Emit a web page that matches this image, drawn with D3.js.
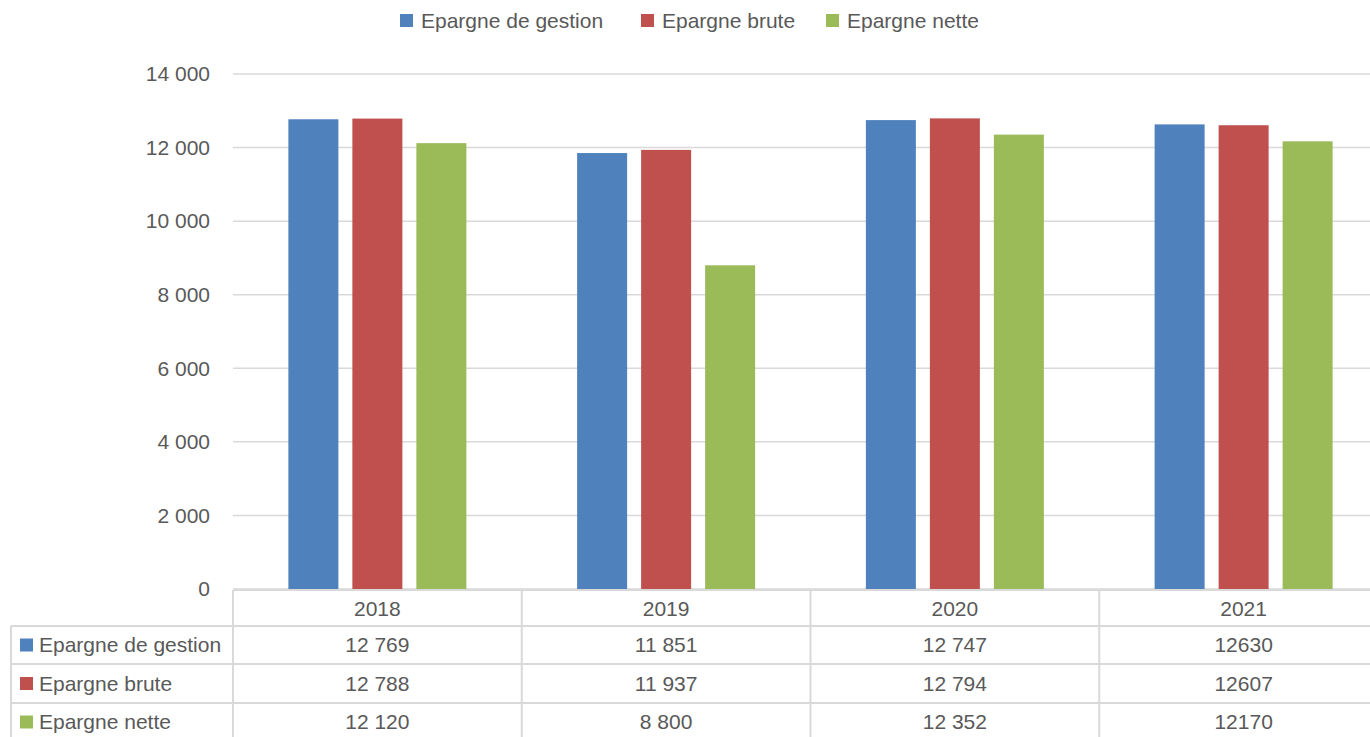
<!DOCTYPE html>
<html>
<head>
<meta charset="utf-8">
<script src="https://cdn.jsdelivr.net/npm/d3@7"></script>
<style>
  body { margin: 0; background: #fff; }
  text { font-family: "Liberation Sans", Arial, sans-serif; fill: #595959; }
</style>
</head>
<body>
<div id="chart"></div>
<script>
var years = ["2018", "2019", "2020", "2021"];
var seriesNames = ["Epargne de gestion", "Epargne brute", "Epargne nette"];
var gestion = [12769, 11851, 12747, 12630];
var brute = [12788, 11937, 12794, 12607];
var nette = [12120, 8800, 12352, 12170];
// labels shown in the data table, as written in the source
var gestionLabels = ["12 769", "11 851", "12 747", "12630"];
var bruteLabels = ["12 788", "11 937", "12 794", "12607"];
var netteLabels = ["12 120", "8 800", "12 352", "12170"];
var yTicks = [0, 2000, 4000, 6000, 8000, 10000, 12000, 14000];

var colors = ["#4F81BD", "#C0504D", "#9BBB59"];
var allValues = [gestion, brute, nette];
var allLabels = [gestionLabels, bruteLabels, netteLabels];

var width = 1370, height = 737;
var plotLeft = 233, plotRight = 1388, plotTop = 74, plotBottom = 589;

var svg = d3.select("#chart")
    .append("svg")
    .attr("width", width)
    .attr("height", height);

var x0 = d3.scaleBand()
    .domain(years)
    .range([plotLeft, plotRight])
    .padding(0);

var groupW = 178;
var x1 = d3.scaleBand()
    .domain(seriesNames)
    .range([(x0.bandwidth() - groupW) / 2, (x0.bandwidth() + groupW) / 2])
    .paddingInner(14 / 64)
    .paddingOuter(0);

var y = d3.scaleLinear()
    .domain([0, 14000])
    .range([plotBottom, plotTop]);

var fmt = function(v) { return d3.format(",")(v).replace(/,/g, " "); };

// gridlines
svg.selectAll(".grid")
    .data(yTicks)
    .enter()
    .append("line")
    .attr("x1", plotLeft)
    .attr("x2", plotRight)
    .attr("y1", function(d) { return y(d); })
    .attr("y2", function(d) { return y(d); })
    .attr("stroke", "#D9D9D9")
    .attr("stroke-width", 1.5);

// y tick labels
svg.selectAll(".ytick")
    .data(yTicks)
    .enter()
    .append("text")
    .attr("x", 210)
    .attr("y", function(d) { return y(d); })
    .attr("dy", "0.35em")
    .attr("text-anchor", "end")
    .style("font-size", "21px")
    .text(function(d) { return fmt(d); });

// bars
seriesNames.forEach(function(s, i) {
    svg.selectAll(".bar" + i)
        .data(years)
        .enter()
        .append("rect")
        .attr("x", function(d) { return x0(d) + x1(s); })
        .attr("width", x1.bandwidth())
        .attr("y", function(d, j) { return y(allValues[i][j]); })
        .attr("height", function(d, j) { return y(0) - y(allValues[i][j]); })
        .attr("fill", colors[i]);
});

// legend
var legendX = [400, 641, 826];
var legend = svg.selectAll(".legend")
    .data(seriesNames)
    .enter()
    .append("g")
    .attr("transform", function(d, i) { return "translate(" + legendX[i] + ",14)"; });
legend.append("rect")
    .attr("width", 13)
    .attr("height", 13)
    .attr("fill", function(d, i) { return colors[i]; });
legend.append("text")
    .attr("x", 21)
    .attr("y", 7)
    .attr("dy", "0.35em")
    .style("font-size", "21px")
    .text(function(d) { return d; });

// data table
var rowY = [590, 626, 664, 703, 741];
var tableLeft = 11;
var lineColor = "#D9D9D9";

svg.append("line")
    .attr("x1", plotLeft).attr("x2", plotRight)
    .attr("y1", rowY[0]).attr("y2", rowY[0])
    .attr("stroke", lineColor).attr("stroke-width", 2);
rowY.slice(1).forEach(function(ry) {
    svg.append("line")
        .attr("x1", tableLeft).attr("x2", plotRight)
        .attr("y1", ry).attr("y2", ry)
        .attr("stroke", lineColor).attr("stroke-width", 2);
});
svg.append("line")
    .attr("x1", tableLeft).attr("x2", tableLeft)
    .attr("y1", rowY[1]).attr("y2", height)
    .attr("stroke", lineColor).attr("stroke-width", 2);
years.concat(["end"]).forEach(function(d, i) {
    var xx = i < years.length ? x0(d) : plotRight;
    svg.append("line")
        .attr("x1", xx).attr("x2", xx)
        .attr("y1", rowY[0]).attr("y2", height)
        .attr("stroke", lineColor).attr("stroke-width", 2);
});

// header row
svg.selectAll(".yearLabel")
    .data(years)
    .enter()
    .append("text")
    .attr("x", function(d) { return x0(d) + x0.bandwidth() / 2; })
    .attr("y", (rowY[0] + rowY[1]) / 2 + 1)
    .attr("dy", "0.35em")
    .attr("text-anchor", "middle")
    .style("font-size", "21px")
    .text(function(d) { return d; });

seriesNames.forEach(function(s, i) {
    var cy = (rowY[i + 1] + rowY[i + 2]) / 2;
    svg.append("rect")
        .attr("x", 20)
        .attr("y", cy - 6.5)
        .attr("width", 13)
        .attr("height", 13)
        .attr("fill", colors[i]);
    svg.append("text")
        .attr("x", 39)
        .attr("y", cy)
        .attr("dy", "0.35em")
        .style("font-size", "21px")
        .text(s);
    svg.selectAll(".cell" + i)
        .data(years)
        .enter()
        .append("text")
        .attr("x", function(d) { return x0(d) + x0.bandwidth() / 2; })
        .attr("y", cy)
        .attr("dy", "0.35em")
        .attr("text-anchor", "middle")
        .style("font-size", "21px")
        .text(function(d, j) { return allLabels[i][j]; });
});
</script>
</body>
</html>
